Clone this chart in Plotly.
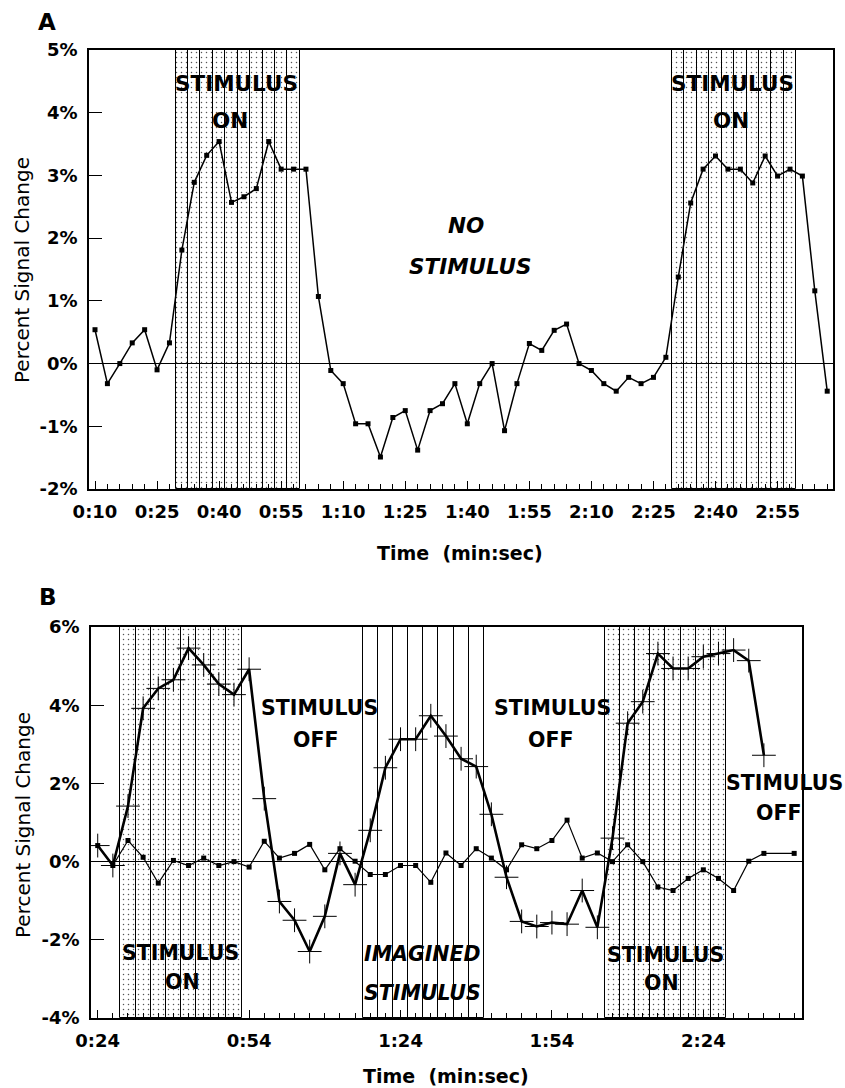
import plotly.graph_objects as go

# ---------------- Panel A data ----------------
timesA = list(range(10, 188, 3))          # seconds, one sample every 3 s
signalA = [0.54, -0.32, 0.00, 0.33, 0.54, -0.10, 0.33, 1.81, 2.89, 3.32,
           3.54, 2.57, 2.66, 2.79, 3.54, 3.10, 3.10, 3.10, 1.07, -0.11,
           -0.32, -0.96, -0.96, -1.49, -0.86, -0.75, -1.38, -0.75, -0.64, -0.32,
           -0.96, -0.32, 0.00, -1.07, -0.32, 0.32, 0.21, 0.53, 0.63, 0.00,
           -0.11, -0.32, -0.44, -0.22, -0.32, -0.22, 0.10, 1.38, 2.56, 3.10,
           3.31, 3.10, 3.10, 2.88, 3.31, 2.99, 3.10, 2.99, 1.16, -0.44]
stimA = [(29.5, 59.5), (149.5, 179.5)]
xtickA_vals = [10, 25, 40, 55, 70, 85, 100, 115, 130, 145, 160, 175]
xtickA_text = ["0:10", "0:25", "0:40", "0:55", "1:10", "1:25", "1:40", "1:55",
               "2:10", "2:25", "2:40", "2:55"]
ytickA_vals = [-2, -1, 0, 1, 2, 3, 4, 5]
ytickA_text = ["-2%", "-1%", "0%", "1%", "2%", "3%", "4%", "5%"]

# ---------------- Panel B data ----------------
timesB = list(range(24, 163, 3))
activeB = [0.41, -0.10, 1.42, 3.92, 4.43, 4.65, 5.46, 5.03, 4.54, 4.27,
           4.92, 1.61, -1.02, -1.50, -2.30, -1.40, 0.21, -0.59, 0.80, 2.40,
           3.13, 3.13, 3.73, 3.21, 2.63, 2.43, 1.21, -0.40, -1.53, -1.66,
           -1.56, -1.60, -0.74, -1.68, 0.60, 3.54, 4.09, 5.32, 4.94, 4.94,
           5.24, 5.32, 5.41, 5.14, 2.72, None, None]
controlB = [0.41, -0.10, 0.54, 0.11, -0.55, 0.03, -0.10, 0.09, -0.10, 0.00,
            -0.14, 0.52, 0.09, 0.21, 0.44, -0.21, 0.33, 0.01, -0.33, -0.33,
            -0.10, -0.10, -0.53, 0.22, -0.10, 0.33, 0.09, -0.21, 0.43, 0.33,
            0.54, 1.06, 0.09, 0.22, 0.00, 0.43, 0.00, -0.65, -0.74, -0.43,
            -0.21, -0.43, -0.74, 0.01, 0.21, None, 0.21]
stimB_on = [(28.5, 52.5), (124.5, 148.5)]
stimB_imag = [(76.5, 100.5)]
xtickB_vals = [24, 54, 84, 114, 144]
xtickB_text = ["0:24", "0:54", "1:24", "1:54", "2:24"]
ytickB_vals = [-4, -2, 0, 2, 4, 6]
ytickB_text = ["-4%", "-2%", "0%", "2%", "4%", "6%"]

COL_W = 3  # width of one stimulus column (s)

W, H = 845, 1088
FONT = "DejaVu Sans"


def cols(blocks):
    c = []
    for a, b in blocks:
        t = a + COL_W / 2
        while t < b:
            c.append(t)
            t += COL_W
    return c


fig = go.Figure()


def add_block(blocks, xa, ya, lo, hi, dotted):
    c = cols(blocks)
    marker = dict(color="rgba(0,0,0,0)", line=dict(color="black", width=1))
    if dotted:
        marker["pattern"] = dict(shape=".", fgcolor="#555555", size=5,
                                 solidity=0.07, fillmode="replace")
    fig.add_trace(go.Bar(x=c, y=[hi - lo] * len(c), base=lo, width=COL_W,
                         marker=marker, xaxis=xa, yaxis=ya,
                         showlegend=False, hoverinfo="skip"))


add_block(stimA, "x", "y", -2, 5, True)
add_block(stimB_on, "x2", "y2", -4, 6, True)
add_block(stimB_imag, "x2", "y2", -4, 6, False)

fig.add_trace(go.Scatter(x=timesA, y=signalA, mode="lines+markers",
                         line=dict(color="black", width=1.5),
                         marker=dict(symbol="square", size=5, color="black"),
                         xaxis="x", yaxis="y", showlegend=False))

fig.add_trace(go.Scatter(x=timesB, y=controlB, mode="lines+markers",
                         connectgaps=True,
                         line=dict(color="black", width=1.2),
                         marker=dict(symbol="square", size=5, color="black"),
                         xaxis="x2", yaxis="y2", showlegend=False))
fig.add_trace(go.Scatter(x=timesB, y=activeB, mode="lines+markers",
                         line=dict(color="black", width=2.6),
                         marker=dict(symbol="cross-thin", size=17, color="black",
                                     line=dict(color="black", width=1)),
                         xaxis="x2", yaxis="y2", showlegend=False))


def px_dom_x(a, b):
    return [a / W, b / W]


def px_dom_y(top, bottom):
    return [1 - bottom / H, 1 - top / H]


tickfont = dict(family=FONT, size=18, color="black", weight="bold")

common_x = dict(showline=True, mirror=True, linecolor="black", linewidth=1.5,
                ticks="inside", ticklen=8, tickcolor="black", tickwidth=1,
                showgrid=False, zeroline=False, tickfont=tickfont,
                ticklabelstandoff=6, tickmode="array", automargin=False)
common_y = dict(showline=True, mirror=True, linecolor="black", linewidth=1.5,
                ticks="inside", ticklen=13, tickcolor="black", tickwidth=1,
                showgrid=False, zeroline=True, zerolinecolor="black",
                zerolinewidth=1, tickfont=tickfont, ticklabelstandoff=6,
                tickmode="array", automargin=False)

fig.update_layout(
    template="none",
    width=W, height=H, margin=dict(l=0, r=0, t=0, b=0, autoexpand=False),
    paper_bgcolor="white", plot_bgcolor="white", showlegend=False,
    barmode="overlay", bargap=0,
    xaxis=dict(domain=px_dom_x(89, 833), range=[8.55, 188.4],
               tickvals=xtickA_vals, ticktext=xtickA_text,
               minor=dict(tickmode="linear", tick0=10, dtick=3, ticks="inside",
                          ticklen=5, tickcolor="black"),
               anchor="y", **common_x),
    yaxis=dict(domain=px_dom_y(50, 489), range=[-2, 5],
               tickvals=ytickA_vals, ticktext=ytickA_text, anchor="x",
               **common_y),
    xaxis2=dict(domain=px_dom_x(91, 802), range=[22.67, 163.55],
                tickvals=xtickB_vals, ticktext=xtickB_text,
                minor=dict(tickmode="linear", tick0=24, dtick=3, ticks="inside",
                           ticklen=5, tickcolor="black"),
                anchor="y2", **common_x),
    yaxis2=dict(domain=px_dom_y(627, 1018), range=[-4, 6],
                tickvals=ytickB_vals, ticktext=ytickB_text, anchor="x2",
                **common_y),
)


def ann(text, x, y, size=21.5, bold=True, italic=False, angle=0):
    fig.add_annotation(text=text, x=x / W, y=1 - y / H, xref="paper",
                       yref="paper", showarrow=False, textangle=angle,
                       xanchor="center", yanchor="middle",
                       font=dict(family=FONT, size=size, color="black",
                                 weight="bold" if bold else "normal",
                                 style="italic" if italic else "normal"))


# panel letters
ann("A", 47, 22, size=23)
ann("B", 48, 597, size=23)

# axis titles
ann("Percent Signal Change", 22, 270, size=20, bold=False, angle=-90)
ann("Percent Signal Change", 23, 825, size=20, bold=False, angle=-90)
ann("Time  (min:sec)", 460, 553, size=19)
ann("Time  (min:sec)", 446, 1076, size=19)

# panel A labels
ann("STIMULUS", 236, 83)
ann("ON", 230, 120)
ann("STIMULUS", 732, 83)
ann("ON", 731, 120)
ann("NO", 466, 225, italic=True)
ann("STIMULUS", 470, 267, italic=True)

# panel B labels
SB = 20.5
ann("STIMULUS", 319, 708, size=SB)
ann("OFF", 315, 740, size=SB)
ann("STIMULUS", 552, 708, size=SB)
ann("OFF", 550, 740, size=SB)
ann("STIMULUS", 784, 783, size=SB)
ann("OFF", 778, 813, size=SB)
ann("STIMULUS", 180, 953, size=SB)
ann("ON", 182, 982, size=SB)
ann("IMAGINED", 422, 954, size=SB, italic=True)
ann("STIMULUS", 422, 993, size=SB, italic=True)
ann("STIMULUS", 665, 955, size=SB)
ann("ON", 661, 983, size=SB)

fig.write_html(
    "out.html",
    config={"displayModeBar": False},
    post_script=("document.body.style.margin='0';"
                 "document.body.style.padding='0';"
                 "document.body.style.overflow='hidden';"),
)
